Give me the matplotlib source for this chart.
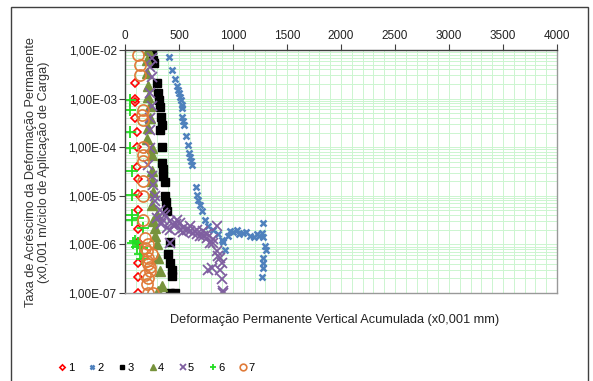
import matplotlib
matplotlib.use("Agg")
import matplotlib.pyplot as plt
from matplotlib.ticker import FixedLocator, FuncFormatter, LogLocator, NullFormatter
from matplotlib.patches import Rectangle

plt.rcParams['font.family'] = ['Liberation Sans', 'DejaVu Sans']

# Series data: x = accumulated deformation, y = rate
x1 = [93, 93, 93, 93, 108, 108, 108, 118, 118, 118, 118, 118, 123, 123, 123]
y1 = [2.1e-3, 1.0e-3, 8.5e-4, 4.0e-4, 2.1e-4, 1.0e-4, 4.0e-5, 2.2e-5, 1.1e-5,
      5.1e-6, 2.1e-6, 1.1e-6, 4.1e-7, 2.1e-7, 1.0e-7]

x2 = [407, 438, 463, 484, 494, 503, 509, 516, 525, 531, 531, 540, 546, 565, 583,
      595, 602, 611, 618, 657, 669, 679, 694, 710, 741, 771, 818, 864, 895, 910,
      926, 972, 1034, 1093, 1157, 1219, 1266, 1281, 1296, 1306, 1281, 1281, 1275,
      1266, 1281, 950, 1000, 1060, 1120, 1190, 1240]
y2 = [7.1e-3, 3.9e-3, 2.5e-3, 1.8e-3, 1.5e-3, 1.3e-3, 1.1e-3, 9.4e-4, 7.4e-4,
      6.4e-4, 4.2e-4, 3.4e-4, 2.9e-4, 1.7e-4, 1.1e-4, 7.7e-5, 6.4e-5, 5.2e-5,
      4.3e-5, 1.5e-5, 1.05e-5, 8.3e-6, 6.6e-6, 4.8e-6, 3.2e-6, 2.4e-6, 2.0e-6,
      1.6e-6, 1.26e-6, 1.1e-6, 7.8e-7, 1.86e-6, 2.0e-6, 1.7e-6, 1.5e-6, 1.6e-6,
      1.7e-6, 1.4e-6, 9.1e-7, 7.8e-7, 5.3e-7, 4.2e-7, 3.2e-7, 2.1e-7, 2.8e-6,
      1.5e-6, 1.8e-6, 1.6e-6, 1.8e-6, 1.4e-6, 1.5e-6]

x3 = [247, 262, 269, 293, 308, 318, 324, 331, 340, 324, 340, 340, 355, 355, 370,
      370, 380, 392, 417, 401, 417, 432, 432, 417, 463]
y3 = [1.0e-2, 6.2e-3, 5.4e-3, 2.1e-3, 1.3e-3, 9.4e-4, 6.7e-4, 4.2e-4, 2.9e-4,
      2.3e-4, 1.03e-4, 4.8e-5, 3.5e-5, 2.5e-5, 1.9e-5, 9.8e-6, 7.3e-6, 4.8e-6,
      1.1e-6, 6.2e-7, 4.2e-7, 3.0e-7, 2.2e-7, 1.0e-7, 1.0e-7]

x4 = [216, 201, 201, 216, 216, 231, 231, 216, 201, 247, 247, 247, 253, 262, 247,
      293, 278, 293, 308, 324, 340, 308, 262, 278]
y4 = [1.0e-2, 6.2e-3, 3.3e-3, 1.8e-3, 1.1e-3, 6.9e-4, 4.0e-4, 2.5e-4, 1.5e-4,
      9.5e-5, 6.9e-5, 3.2e-5, 2.0e-5, 1.2e-5, 6.6e-6, 4.1e-6, 2.2e-6, 1.0e-6,
      5.3e-7, 2.8e-7, 1.4e-7, 1.1e-7, 3.0e-6, 1.5e-6]

x5 = [247, 231, 247, 231, 247, 231, 231, 231, 216, 247, 262, 278, 278, 324, 355,
      370, 355, 417, 479, 509, 540, 571, 602, 632, 664, 694, 725, 756, 787, 818,
      849, 864, 880, 895, 910, 803, 880, 895, 910, 417, 849, 771, 447, 509, 386,
      602, 540, 664, 725, 756, 818, 300, 330, 420, 470]
y5 = [6.8e-3, 4.5e-3, 2.8e-3, 1.3e-3, 6.9e-4, 4.0e-4, 2.3e-4, 9.5e-5, 4.3e-5,
      2.5e-5, 1.7e-5, 9.8e-6, 7.8e-6, 5.1e-6, 4.5e-6, 4.1e-6, 3.2e-6, 3.0e-6,
      3.2e-6, 2.8e-6, 2.2e-6, 2.0e-6, 1.86e-6, 1.7e-6, 1.6e-6, 1.5e-6, 1.5e-6,
      1.35e-6, 1.07e-6, 1.07e-6, 7.3e-7, 5.8e-7, 5.3e-7, 4.1e-7, 1.0e-7, 3.3e-7,
      3.0e-7, 1.9e-7, 1.1e-7, 1.07e-6, 2.4e-6, 3.0e-7, 2.5e-6, 2.0e-6, 2.2e-6,
      2.4e-6, 1.8e-6, 2.0e-6, 1.9e-6, 1.6e-6, 1.3e-6, 3.5e-6, 2.6e-6, 2.0e-6,
      2.6e-6]

x6 = [46, 46, 46, 46, 62, 62, 62, 62, 123, 169, 93, 123, 155, 139, 155, 108, 77]
y6 = [9.4e-4, 5.9e-4, 2.1e-4, 9.8e-5, 3.2e-5, 1.04e-5, 4.1e-6, 3.2e-6, 3.5e-6,
      2.2e-6, 1.15e-6, 1.07e-6, 8.5e-7, 6.2e-7, 4.9e-7, 9.0e-7, 1.05e-6]

x7 = [123, 139, 139, 169, 155, 169, 169, 169, 169, 169, 169, 169, 185, 216, 201,
      216, 216, 231, 216, 201, 216, 262, 185, 201, 231, 185, 247]
y7 = [7.9e-3, 4.9e-3, 3.1e-3, 5.9e-4, 4.6e-4, 3.7e-4, 1.03e-4, 6.9e-5, 5.1e-5,
      2.0e-5, 9.8e-6, 3.2e-6, 1.35e-6, 1.0e-6, 7.3e-7, 5.3e-7, 3.9e-7, 2.8e-7,
      2.0e-7, 1.5e-7, 1.0e-7, 1.0e-7, 8.5e-7, 4.5e-7, 3.4e-7, 2.4e-7, 6.2e-7]

x_ticks = [0, 500, 1000, 1500, 2000, 2500, 3000, 3500, 4000]
y_ticks = [1e-7, 1e-6, 1e-5, 1e-4, 1e-3, 1e-2]


def main():
    fig = plt.figure(figsize=(5.93, 3.81), dpi=100)
    ax = fig.add_axes([0.2108, 0.231, 0.7285, 0.6378])

    # outer chart border
    fig.patches.append(Rectangle((11 / 593, -0.01), 577 / 593, 1 - 7 / 381 + 0.01,
                                 transform=fig.transFigure, fill=False,
                                 edgecolor='#404040', linewidth=1.0))

    ax.plot(x1, y1, linestyle='none', marker='D', ms=4.5, mfc='none', mec='#FF0000',
            mew=1.2, label='1')
    ax.plot(x2, y2, linestyle='none', marker='x', ms=4.5, mec='#4F81BD', mew=1.8,
            label='2')
    ax.plot(x3, y3, linestyle='none', marker='s', ms=6, mfc='black', mec='black',
            label='3')
    ax.plot(x4, y4, linestyle='none', marker='^', ms=7, mfc='#77933C', mec='#77933C',
            label='4')
    ax.plot(x5, y5, linestyle='none', marker='x', ms=7, mec='#7F5FA0', mew=1.3,
            label='5')
    ax.plot(x6, y6, linestyle='none', marker='+', ms=8, mec='#22DD22', mew=1.3,
            label='6')
    ax.plot(x7, y7, linestyle='none', marker='o', ms=8, mfc='none', mec='#E07B39',
            mew=1.2, label='7')

    ax.set_yscale('log')
    ax.set_xlim(0, 4000)
    ax.set_ylim(1e-7, 1e-2)

    ax.xaxis.tick_top()
    ax.set_xticks(x_ticks)
    ax.xaxis.set_minor_locator(FixedLocator(range(0, 4001, 100)))
    ax.set_yticks(y_ticks)
    ax.yaxis.set_minor_locator(LogLocator(base=10, subs=range(2, 10)))
    ax.yaxis.set_minor_formatter(NullFormatter())
    ax.yaxis.set_major_formatter(FuncFormatter(
        lambda v, p: ('%.2E' % v).replace('.', ',')))

    ax.tick_params(axis='both', which='major', labelsize=8.5, length=4,
                   direction='out', color='#404040', pad=2, labelcolor='#222222')
    ax.tick_params(axis='both', which='minor', length=0)

    ax.grid(True, which='both', color='#CCF5D0', linewidth=0.7)
    ax.set_axisbelow(True)

    for side in ['top', 'left']:
        ax.spines[side].set_color('#404040')
    for side in ['bottom', 'right']:
        ax.spines[side].set_color('#999999')
    for s in ax.spines.values():
        s.set_linewidth(1.0)

    fig.text(37.5 / 593, 1 - 172 / 381,
             'Taxa de Acréscimo da Deformação Permanente\n'
             '(x0,001 m/ciclo de Aplicação de Carga)',
             rotation=90, ha='center', va='center', ma='center', fontsize=9.2,
             color='#333333', linespacing=1.05)
    fig.text(335 / 593, 1 - 320 / 381,
             'Deformação Permanente Vertical Acumulada (x0,001 mm)',
             ha='center', va='center', fontsize=9.2, color='#222222')

    fig.legend(loc='center', bbox_to_anchor=(156 / 593, 1 - 368 / 381), ncol=7,
               frameon=False, fontsize=8, markerscale=0.6, handlelength=0.8,
               handletextpad=0.1, columnspacing=1.25, borderpad=0)

    fig.savefig('out.png', dpi=100)


if __name__ == "__main__":
    main()
